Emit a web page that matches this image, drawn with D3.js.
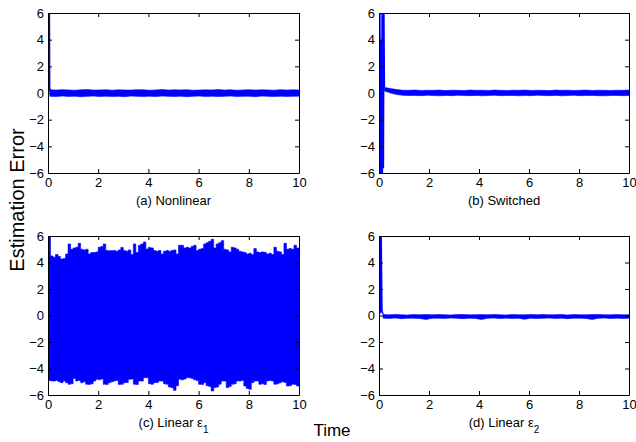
<!DOCTYPE html>
<html>
<head>
<meta charset="utf-8">
<script src="https://cdn.jsdelivr.net/npm/d3@7"></script>
<style>
  body { margin: 0; background: #fff; }
  text { font-family: "Liberation Sans", Arial, Helvetica, sans-serif; fill: #000; }
</style>
</head>
<body>
<svg id="chart" width="636" height="442"></svg>
<script>
// ---- axis ticks ----
const xTicks = [0, 2, 4, 6, 8, 10];
const yTicks = [-6, -4, -2, 0, 2, 4, 6];

// ---- (a) Nonlinear: initial drop, then a thin residual band ----
const transA_t = [0, 0.05, 0.06, 0.075];
const transA_v = [6, 6, 0.5, 0.1];
const bandA_t0 = 0.075;
const bandA_hi = [0.24,0.22,0.25,0.23,0.21,0.24,0.26,0.22,0.23,0.25,0.21,0.24,0.23,0.22,0.25,0.24,0.21,0.23,0.26,0.22,0.24,0.23,0.25,0.21,0.22,0.24,0.23,0.26,0.22,0.24,0.21,0.23,0.25,0.22,0.24,0.23,0.21,0.25,0.22,0.24,0.23];
const bandA_lo = [-0.25,-0.27,-0.23,-0.26,-0.24,-0.28,-0.25,-0.23,-0.27,-0.24,-0.26,-0.25,-0.28,-0.23,-0.25,-0.26,-0.24,-0.27,-0.23,-0.25,-0.26,-0.24,-0.28,-0.25,-0.23,-0.26,-0.24,-0.27,-0.25,-0.23,-0.26,-0.25,-0.24,-0.28,-0.23,-0.25,-0.27,-0.24,-0.26,-0.25,-0.24];

// ---- (b) Switched: fast full-range chatter, overshoot, then band ----
const transB_t = [0, 0.02, 0.04, 0.06, 0.08, 0.10, 0.12, 0.14, 0.16, 0.18, 0.20, 0.22];
const transB_v = [6, -5.1, 6, -6, 3.9, -6, 6, -6, 6, -5.6, 6, 0.42];
const bandB_t0 = 0.22;
const bandB_hi = [0.42,0.33,0.26,0.21,0.2,0.22,0.19,0.21,0.2,0.22,0.18,0.21,0.2,0.19,0.22,0.2,0.21,0.19,0.22,0.2,0.18,0.21,0.2,0.22,0.19,0.21,0.2,0.18,0.22,0.2,0.21,0.19,0.2,0.22,0.19,0.21,0.2,0.18,0.21,0.2,0.22];
const bandB_lo = [0.15,0.0,-0.12,-0.17,-0.19,-0.18,-0.2,-0.17,-0.19,-0.21,-0.18,-0.2,-0.17,-0.19,-0.2,-0.18,-0.21,-0.19,-0.17,-0.2,-0.19,-0.18,-0.21,-0.19,-0.2,-0.17,-0.19,-0.2,-0.18,-0.21,-0.19,-0.17,-0.2,-0.19,-0.18,-0.2,-0.21,-0.19,-0.18,-0.2,-0.19];

// ---- (c) Linear eps1: persistent oscillation, upper / lower envelopes ----
const envC_hi = [6.0,4.5,4.4,4.6,4.45,4.26,4.3,4.64,5.4,5.0,
  5.1,5.15,5.45,5.0,4.95,5.0,4.64,4.75,4.75,4.8,
  5.15,5.2,5.4,4.9,4.89,4.9,4.9,4.85,4.95,5.14,
  4.9,4.85,4.95,4.6,5.4,4.75,5.3,5.4,5.55,5.02,
  5.14,5.1,4.9,4.85,4.9,4.64,4.85,4.9,4.85,4.9,
  4.95,4.64,5.3,5.3,5.1,5.15,5.1,5.2,5.3,4.9,
  5.0,5.05,5.4,5.5,5.6,5.75,5.1,5.4,5.5,5.65,
  5.0,4.95,4.8,5.15,5.1,5.0,4.85,4.8,4.75,4.64,
  4.7,4.6,5.05,4.8,4.75,4.8,4.77,4.64,4.7,4.6,
  5.15,4.85,4.8,4.6,5.45,5.0,5.05,5.0,5.3,5.1,4.95];
const envC_lo = [-4.9,-4.94,-4.95,-4.9,-5.0,-5.07,-4.95,-5.07,-5.19,-5.15,
  -4.75,-4.94,-4.9,-5.07,-5.0,-5.19,-5.2,-5.15,-4.95,-4.82,
  -4.85,-4.8,-5.19,-5.2,-5.07,-5.0,-4.94,-4.9,-5.2,-5.19,
  -5.07,-5.05,-4.82,-4.8,-5.19,-5.2,-4.94,-4.95,-4.7,-4.69,
  -5.15,-5.19,-5.07,-5.05,-4.94,-4.95,-5.15,-5.19,-5.4,-5.45,
  -5.65,-5.3,-4.82,-4.85,-4.8,-4.69,-4.7,-4.75,-4.85,-4.9,
  -5.19,-5.2,-5.07,-5.3,-5.35,-5.7,-5.44,-5.4,-5.19,-4.94,
  -4.95,-5.44,-5.35,-5.19,-5.15,-4.94,-4.95,-4.9,-5.32,-5.5,
  -5.57,-5.07,-4.95,-4.94,-5.19,-5.15,-5.2,-4.94,-4.9,-4.95,
  -5.19,-5.15,-5.07,-5.0,-5.05,-5.32,-5.3,-5.19,-5.2,-5.32,-5.3];

// ---- (d) Linear eps2: fast chatter from 6 down, then band ----
const transD_t = [0, 0.01, 0.03, 0.05, 0.07, 0.09, 0.12, 0.16];
const transD_v = [6, 6, 0.3, 6, 0.2, 5.9, 0.4, 0.08];
const bandD_t0 = 0.16;
const bandD_hi = [0.07,0.05,0.08,0.06,0.04,0.07,0.06,0.08,0.05,0.07,0.06,0.04,0.07,0.08,0.05,0.06,0.07,0.05,0.08,0.06,0.04,0.07,0.06,0.05,0.08,0.06,0.07,0.05,0.06,0.08,0.04,0.07,0.06,0.05,0.07,0.08,0.06,0.05,0.07,0.06,0.05];
const bandD_lo = [-0.2,-0.22,-0.19,-0.24,-0.21,-0.2,-0.23,-0.3,-0.21,-0.2,-0.22,-0.19,-0.21,-0.24,-0.2,-0.22,-0.3,-0.21,-0.19,-0.23,-0.2,-0.22,-0.21,-0.28,-0.2,-0.23,-0.21,-0.19,-0.22,-0.2,-0.24,-0.21,-0.2,-0.22,-0.3,-0.21,-0.19,-0.23,-0.2,-0.22,-0.21];

// ---- captions ----
const captions = [
  { main: "(a) Nonlinear", sub: "" },
  { main: "(b) Switched", sub: "" },
  { main: "(c) Linear \u03b5", sub: "1" },
  { main: "(d) Linear \u03b5", sub: "2" }
];

// helpers to pair a sample grid with envelope values
function band(t0, t1, hi, lo) {
  const n = hi.length, step = (t1 - t0) / (n - 1);
  return hi.map((h, i) => ({ t: t0 + i * step, hi: h, lo: lo[i] }));
}
function trace(ts, vs) { return ts.map((t, i) => ({ t, v: vs[i] })); }

const series = [
  { band: band(bandA_t0, 10, bandA_hi, bandA_lo), trans: trace(transA_t, transA_v), step: false, w: 1.8 },
  { band: band(bandB_t0, 10, bandB_hi, bandB_lo), trans: trace(transB_t, transB_v), step: false, w: 1.3 },
  { band: band(0, 10, envC_hi, envC_lo), trans: null, step: true, w: 1.3 },
  { band: band(bandD_t0, 10, bandD_hi, bandD_lo), trans: trace(transD_t, transD_v), step: false, w: 1.4 }
];

const frames = [
  { left: 48, right: 299, top: 13, bottom: 173 },
  { left: 379, right: 629, top: 13, bottom: 173 },
  { left: 48, right: 299, top: 236, bottom: 395 },
  { left: 379, right: 629, top: 236, bottom: 395 }
];

const svg = d3.select("#chart");
const blue = "#0000ff";
const fontFamily = '"Liberation Sans", Arial, Helvetica, sans-serif';

frames.forEach((f, k) => {
  const x = d3.scaleLinear().domain([0, 10]).range([f.left, f.right]);
  const y = d3.scaleLinear().domain([-6, 6]).range([f.bottom, f.top]);
  const s = series[k];

  const clipId = "clip" + k;
  svg.append("clipPath").attr("id", clipId)
    .append("rect").attr("x", f.left).attr("y", f.top)
    .attr("width", f.right - f.left).attr("height", f.bottom - f.top);

  const g = svg.append("g").attr("clip-path", `url(#${clipId})`);

  const area = d3.area()
    .x(d => x(d.t)).y0(d => y(d.lo)).y1(d => y(d.hi))
    .curve(s.step ? d3.curveStepAfter : d3.curveLinear);
  g.append("path").datum(s.band).attr("d", area)
    .attr("fill", blue).attr("stroke", blue).attr("stroke-width", 0.6);

  if (s.trans) {
    const line = d3.line().x(d => x(d.t)).y(d => y(d.v));
    g.append("path").datum(s.trans).attr("d", line)
      .attr("fill", "none").attr("stroke", blue).attr("stroke-width", s.w)
      .attr("stroke-linejoin", "round");
  }

  // box with inward ticks on all four sides
  const styleAxis = sel => {
    sel.attr("font-family", null).attr("font-size", null);
    sel.select(".domain").attr("stroke", "#000").attr("stroke-width", 1);
    sel.selectAll(".tick line").attr("stroke", "#000");
    sel.selectAll("text").attr("font-size", 13)
      .attr("font-family", fontFamily).attr("fill", "#000");
  };
  svg.append("g").attr("transform", `translate(0,${f.bottom})`)
    .call(d3.axisBottom(x).tickValues(xTicks).tickSize(-4).tickSizeOuter(0).tickPadding(5))
    .call(styleAxis);
  svg.append("g").attr("transform", `translate(0,${f.top})`)
    .call(d3.axisTop(x).tickValues(xTicks).tickSize(-4).tickSizeOuter(0).tickFormat(""))
    .call(styleAxis);
  svg.append("g").attr("transform", `translate(${f.left},0)`)
    .call(d3.axisLeft(y).tickValues(yTicks).tickSize(-4).tickSizeOuter(0).tickPadding(4))
    .call(styleAxis);
  svg.append("g").attr("transform", `translate(${f.right},0)`)
    .call(d3.axisRight(y).tickValues(yTicks).tickSize(-4).tickSizeOuter(0).tickFormat(""))
    .call(styleAxis);

  // caption under each panel
  const cap = svg.append("text")
    .attr("x", (f.left + f.right) / 2).attr("y", f.bottom + 31.5)
    .attr("text-anchor", "middle").attr("font-size", 13);
  cap.append("tspan").text(captions[k].main);
  if (captions[k].sub) {
    cap.append("tspan").attr("dy", 6.5).attr("font-size", 10).text(captions[k].sub);
  }
});

// shared axis titles
svg.append("text")
  .attr("transform", "translate(24,200) rotate(-90)")
  .attr("text-anchor", "middle").attr("font-size", 20)
  .text("Estimation Error");
svg.append("text")
  .attr("x", 332).attr("y", 436)
  .attr("text-anchor", "middle").attr("font-size", 17)
  .text("Time");
</script>
</body>
</html>
